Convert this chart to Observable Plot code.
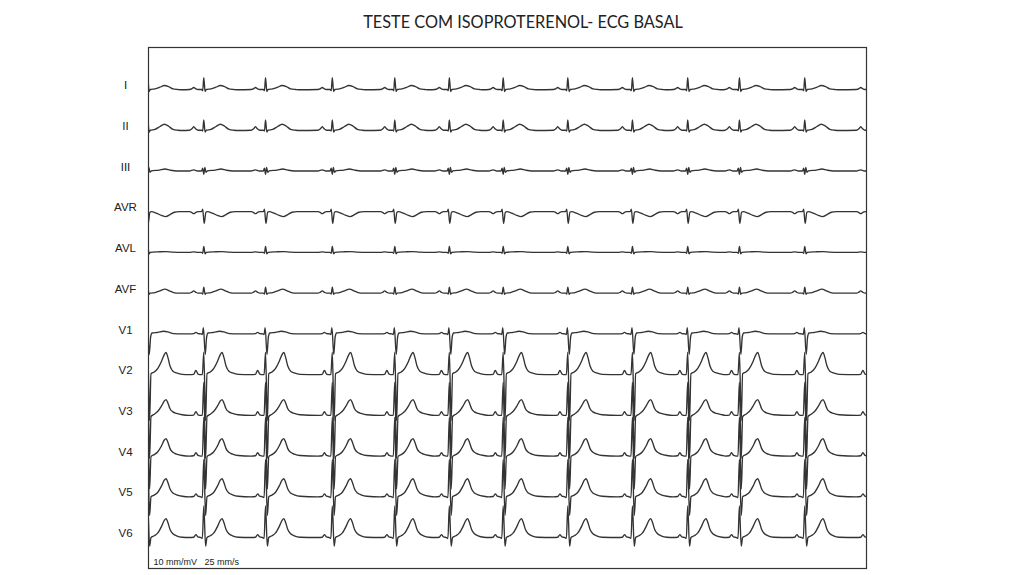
<!DOCTYPE html>
<html><head><meta charset="utf-8">
<script src="https://cdn.jsdelivr.net/npm/d3@7"></script>
<script src="https://cdn.jsdelivr.net/npm/@observablehq/plot@0.6"></script>
<style>
body{margin:0;background:#fff;width:1024px;height:575px;overflow:hidden}
#title{height:40px;line-height:44px;font-family:Lato,"Open Sans",sans-serif;font-size:16.3px;color:#222;text-align:center;padding-left:22px;box-sizing:border-box}
#chart svg{display:block}
</style></head><body>
<div id="title">TESTE COM ISOPROTERENOL- ECG BASAL</div>
<div id="chart"></div>
<script>
// Lead names (rows, top to bottom)
const leads = ["I","II","III","AVR","AVL","AVF","V1","V2","V3","V4","V5","V6"];
// R-peak times (s) read from the strip, simultaneous in all leads
const beatTimes = [-0.01,0.77,1.63,2.56,3.43,4.19,4.94,5.84,6.74,7.51,8.23,9.14,10.06];
// Beat templates per lead: [time relative to R (s), amplitude (mV)]
const tplI   = [[-0.20,0],[-0.17,0.02],[-0.14,0.07],[-0.11,0.02],[-0.08,0],[-0.03,0],[-0.015,-0.04],[0,0.41],[0.018,-0.07],[0.035,0],[0.10,0.02],[0.17,0.08],[0.23,0.14],[0.29,0.1],[0.35,0.02],[0.42,0],[0.48,-0.01]];
const tplII  = [[-0.20,0],[-0.17,0.04],[-0.14,0.12],[-0.11,0.04],[-0.08,0],[-0.03,0],[-0.015,-0.03],[0,0.36],[0.018,-0.06],[0.035,0],[0.10,0.03],[0.17,0.13],[0.23,0.21],[0.29,0.14],[0.35,0.03],[0.42,0],[0.48,-0.01]];
const tplIII = [[-0.20,0],[-0.14,0.04],[-0.09,0],[-0.03,0],[-0.015,0.1],[0,-0.12],[0.015,0.12],[0.03,-0.05],[0.05,0],[0.16,0.03],[0.24,0.07],[0.31,0.03],[0.40,0],[0.48,0]];
const tplAVR = [[-0.20,0],[-0.17,-0.02],[-0.14,-0.07],[-0.11,-0.02],[-0.08,0],[-0.03,0],[-0.015,0.09],[0.005,-0.41],[0.03,-0.02],[0.05,0],[0.12,-0.05],[0.19,-0.13],[0.25,-0.17],[0.31,-0.1],[0.37,-0.02],[0.44,0],[0.48,0]];
const tplAVL = [[-0.20,0],[-0.14,0.02],[-0.08,0],[-0.03,0],[-0.015,-0.03],[0,0.21],[0.018,-0.05],[0.035,0],[0.15,0.02],[0.25,0.03],[0.35,0.01],[0.48,0]];
const tplAVF = [[-0.20,0],[-0.17,0.03],[-0.14,0.08],[-0.11,0.03],[-0.08,0],[-0.03,0],[-0.015,-0.03],[0,0.21],[0.018,-0.04],[0.035,0],[0.10,0.02],[0.17,0.08],[0.24,0.14],[0.30,0.08],[0.36,0.02],[0.43,0],[0.48,0]];
const tplV1  = [[-0.20,0],[-0.14,0.01],[-0.11,0.05],[-0.08,0.01],[-0.04,0],[-0.02,-0.02],[-0.005,0.22],[0.02,-0.72],[0.04,-0.1],[0.06,0.03],[0.14,0.05],[0.22,0.09],[0.29,0.06],[0.36,0.01],[0.48,0]];
const tplV2  = [[-0.20,0],[-0.14,0.01],[-0.11,0.15],[-0.08,0.02],[-0.04,0],[-0.02,0],[0,0.78],[0.025,-1.6],[0.045,0.03],[0.09,0.09],[0.14,0.22],[0.19,0.46],[0.23,0.7],[0.255,0.77],[0.28,0.6],[0.31,0.3],[0.35,0.12],[0.40,0.06],[0.48,0.01]];
const tplV3  = [[-0.20,0],[-0.14,0.01],[-0.11,0.13],[-0.08,0.02],[-0.04,0],[-0.02,0],[0,1.15],[0.025,-1.5],[0.045,-0.04],[0.09,0.04],[0.14,0.14],[0.19,0.32],[0.23,0.5],[0.255,0.55],[0.28,0.43],[0.31,0.23],[0.35,0.12],[0.40,0.07],[0.48,0.02]];
const tplV4  = [[-0.20,0],[-0.14,0.01],[-0.11,0.12],[-0.08,0.02],[-0.04,0],[-0.02,0],[0,1.35],[0.025,-1.15],[0.045,-0.02],[0.09,0.05],[0.14,0.15],[0.19,0.35],[0.23,0.56],[0.255,0.61],[0.28,0.48],[0.31,0.26],[0.35,0.13],[0.40,0.07],[0.48,0.02]];
const tplV5  = [[-0.20,0],[-0.14,0.01],[-0.11,0.1],[-0.08,0.02],[-0.04,0],[-0.02,-0.03],[0,1.3],[0.025,-0.65],[0.045,0],[0.09,0.06],[0.14,0.16],[0.19,0.37],[0.23,0.58],[0.255,0.63],[0.28,0.5],[0.31,0.27],[0.35,0.13],[0.40,0.07],[0.48,0.02]];
const tplV6  = [[-0.20,0],[-0.14,0.01],[-0.11,0.1],[-0.08,0.02],[-0.04,0],[-0.02,-0.03],[0,1.1],[0.025,-0.3],[0.045,0],[0.09,0.06],[0.14,0.16],[0.19,0.38],[0.23,0.6],[0.255,0.66],[0.28,0.52],[0.31,0.28],[0.35,0.13],[0.40,0.06],[0.48,0.01]];
const templates = [tplI,tplII,tplIII,tplAVR,tplAVL,tplAVF,tplV1,tplV2,tplV3,tplV4,tplV5,tplV6];
const calibText = "10 mm/mV   25 mm/s";

// layout (pixel geometry -> mV units)
const pxPerMV = 28.7, rowGapPx = 40.73, firstRowPx = 42, frameH = 521;
const rowGap = rowGapPx / pxPerMV;
const yMax = firstRowPx / pxPerMV, yMin = -(frameH - firstRowPx) / pxPerMV;

const points = [];
leads.forEach((lead, i) => {
  const off = -i * rowGap;
  beatTimes.forEach(b => {
    templates[i].forEach(([dt, v]) => points.push({lead, t: b + dt, v: v + off}));
  });
});
const labelRows = leads.map((lead, i) => ({lead, y: -i * rowGap}));

const chart = Plot.plot({
  width: 1024, height: 535,
  marginLeft: 148, marginRight: 158, marginTop: 7, marginBottom: 7,
  x: {domain: [0, 10], axis: null},
  y: {domain: [yMin, yMax], axis: null},
  style: {background: "#fff"},
  marks: [
    Plot.line(points, {x: "t", y: "v", z: "lead", stroke: "#333", strokeWidth: 1.35, curve: "monotone-x", clip: true}),
    Plot.frame({stroke: "#333", strokeWidth: 1.2}),
    Plot.text(labelRows, {frameAnchor: "left", y: "y", text: "lead", dx: -23, dy: -4, textAnchor: "middle", fontSize: 11.5, fill: "#222", fontFamily: "Liberation Sans, Arial, sans-serif"}),
    Plot.text([calibText], {frameAnchor: "bottom-left", text: d => d, dx: 5, dy: -6, lineAnchor: "middle", textAnchor: "start", fontSize: 9, fill: "#222", fontFamily: "Liberation Sans, Arial, sans-serif"})
  ]
});
document.getElementById("chart").appendChild(chart);
</script>
</body></html>
